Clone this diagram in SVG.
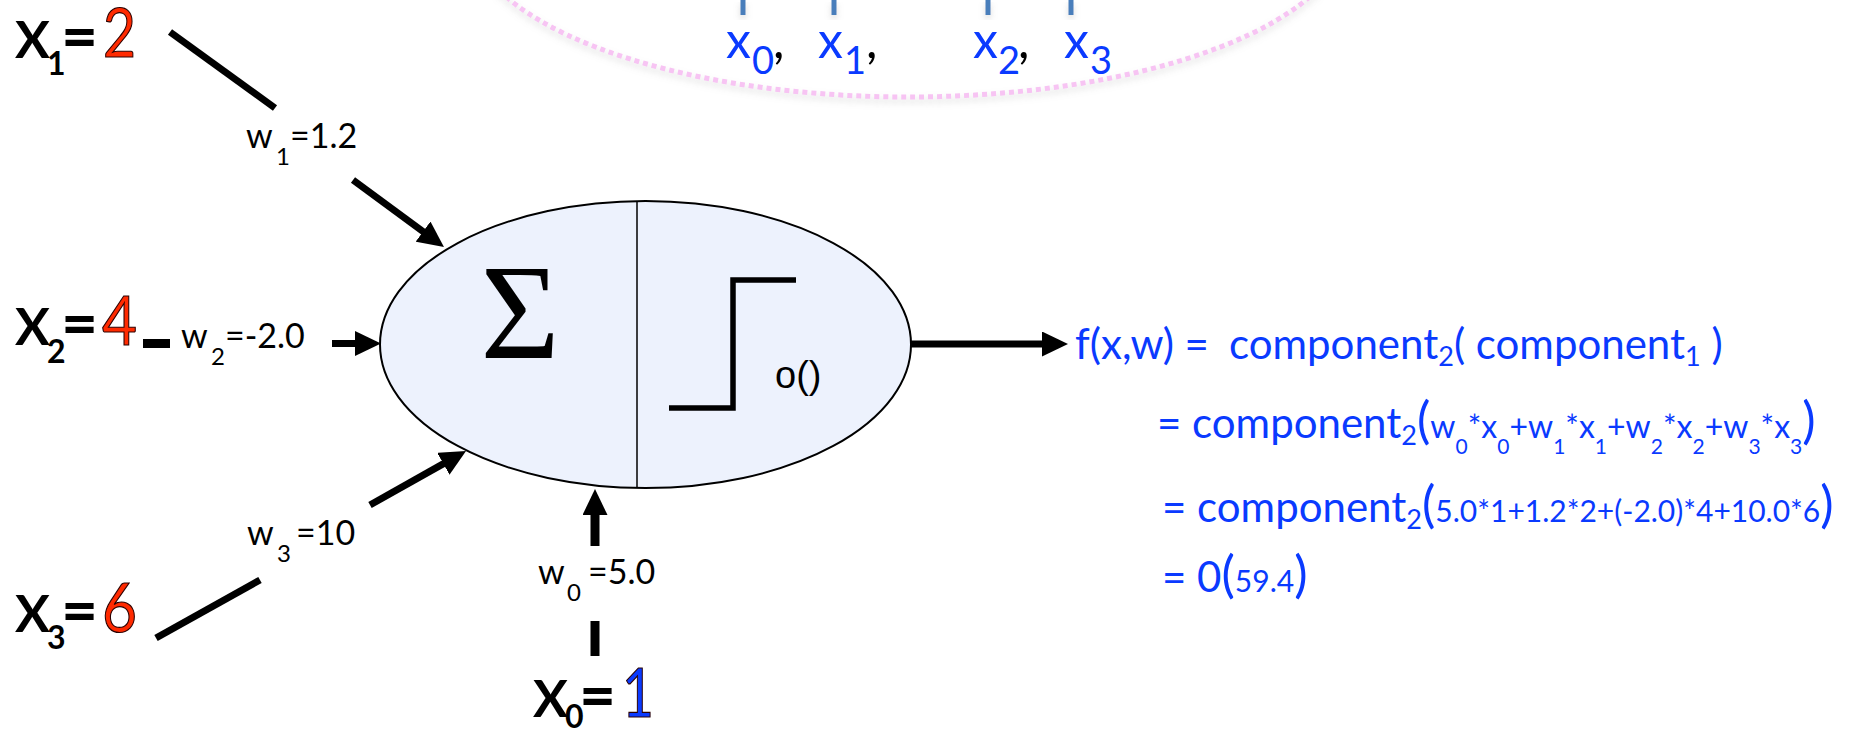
<svg xmlns="http://www.w3.org/2000/svg" width="1874" height="734" viewBox="0 0 1874 734">
<style>
text { font-family: Lato, "Liberation Sans", sans-serif; }
.xb { font-weight: 700; font-size: 52px; fill: #000; }
.eq { font-family: "Open Sans", Lato, sans-serif; font-weight: 700; font-size: 58px; fill: #000; }
.xs { font-weight: 700; font-size: 32px; fill: #000; }
.dig { font-size: 67px; stroke: #2a0000; stroke-width: 1.2px; }
.red { fill: #ff2a00; }
.blu { fill: #0a3aff; }
.w { font-size: 34px; fill: #000; }
.ws { font-size: 24px; }
.f { font-size: 42px; fill: #0a3aff; }
.fs { font-size: 27px; }
.sm { font-size: 30px; }
.sms { font-size: 20px; }
.sm2 { font-size: 32px; }
.sms2 { font-size: 21px; }
.bp { font-size: 50px; }
.tx { font-size: 50px; fill: #0a3aff; }
.txs { font-size: 38px; fill: #0a3aff; }
.cm { font-size: 50px; fill: #000; }
.tick { stroke: #4a7ebb; stroke-width: 5; }
</style>
<defs>
<marker id="ah" markerUnits="userSpaceOnUse" viewBox="0 0 26 25" markerWidth="26" markerHeight="25" refX="13" refY="12.5" orient="auto">
<path d="M0,0 L26,12.5 L0,25 z" fill="#000"/>
</marker>
<filter id="sh" x="-10%" y="-10%" width="120%" height="140%">
<feGaussianBlur in="SourceAlpha" stdDeviation="3"/>
<feOffset dy="4" result="b"/>
<feFlood flood-color="#999" flood-opacity="0.35"/>
<feComposite in2="b" operator="in"/>
<feMerge><feMergeNode/><feMergeNode in="SourceGraphic"/></feMerge>
</filter>
</defs>
<rect width="1874" height="734" fill="#fff"/>

<g id="top-arc">
<ellipse cx="908" cy="-72" rx="440" ry="169" fill="none" stroke="#f7c4f3" stroke-width="5" stroke-dasharray="5 4" filter="url(#sh)"/>
<g filter="url(#sh)">
<line class="tick" x1="743" y1="0" x2="743" y2="15"/>
<line class="tick" x1="834" y1="0" x2="834" y2="15"/>
<line class="tick" x1="988" y1="0" x2="988" y2="15"/>
<line class="tick" x1="1071" y1="0" x2="1071" y2="15"/>
</g>
<text class="tx" x="726" y="58">x</text><text class="txs" x="752" y="74">0</text><text class="cm" x="773" y="58">,</text>
<text class="tx" x="818" y="58">x</text><text class="txs" x="844" y="74">1</text><text class="cm" x="866" y="58">,</text>
<text class="tx" x="973" y="58">x</text><text class="txs" x="998" y="74">2</text><text class="cm" x="1018" y="58">,</text>
<text class="tx" x="1064" y="58">x</text><text class="txs" x="1090" y="74">3</text>
</g>

<g id="connectors" stroke="#000" stroke-width="7" fill="none">
<line x1="170" y1="32" x2="275" y2="108"/>
<line x1="353" y1="180" x2="433.5" y2="239.3" marker-end="url(#ah)"/>
<line x1="143" y1="343.5" x2="170" y2="343.5" stroke-width="9"/>
<line x1="332" y1="343.5" x2="368" y2="343.5" marker-end="url(#ah)"/>
<line x1="156" y1="638" x2="260" y2="580"/>
<line x1="370" y1="505" x2="454.7" y2="457.4" marker-end="url(#ah)"/>
<line x1="595" y1="656" x2="595" y2="621" stroke-width="9"/>
<line x1="595" y1="546" x2="595" y2="502" stroke-width="9" marker-end="url(#ah)"/>
<line x1="911" y1="344" x2="1055" y2="344" marker-end="url(#ah)"/>
</g>

<g id="neuron">
<ellipse cx="645.5" cy="344.5" rx="265.5" ry="143.5" fill="#edf2fd" stroke="#000" stroke-width="2"/>
<line x1="637" y1="201" x2="637" y2="488" stroke="#000" stroke-width="1.5"/>
<text x="520" y="358" text-anchor="middle" font-size="136" fill="#000" style="font-family:'Liberation Serif',serif">Σ</text>
<path d="M669,408 H733 V280 H796" fill="none" stroke="#000" stroke-width="5.5"/>
<text x="775" y="388" font-size="38" fill="#000" style="font-family:'Liberation Sans',Arial,sans-serif">o()</text>
</g>

<g id="x1">
<text class="xb" x="15" y="58">X</text><text class="xs" x="47" y="75">1</text><text class="eq" x="63" y="58">=</text><text class="dig red" x="103" y="57" textLength="33" lengthAdjust="spacingAndGlyphs">2</text>
</g>
<g id="x2">
<text class="xb" x="15" y="345">X</text><text class="xs" x="47" y="363">2</text><text class="eq" x="63" y="345">=</text><text class="dig red" x="102" y="345" textLength="35" lengthAdjust="spacingAndGlyphs">4</text>
</g>
<g id="x3">
<text class="xb" x="15" y="632">X</text><text class="xs" x="47" y="649">3</text><text class="eq" x="63" y="632">=</text><text class="dig red" x="102" y="632" textLength="35" lengthAdjust="spacingAndGlyphs">6</text>
</g>
<g id="x0">
<text class="xb" x="533" y="717">X</text><text class="xs" x="565" y="728">0</text><text class="eq" x="581" y="717">=</text><text class="dig blu" x="622" y="717" textLength="32" lengthAdjust="spacingAndGlyphs">1</text>
</g>

<g id="w1"><text class="w" x="246" y="148">w</text><text class="w ws" x="276" y="165">1</text><text class="w" x="290" y="148">=1.2</text></g>
<g id="w2"><text class="w" x="181" y="348">w</text><text class="w ws" x="211" y="365">2</text><text class="w" x="225" y="348">=-2.0</text></g>
<g id="w3"><text class="w" x="247" y="545">w</text><text class="w ws" x="277" y="562">3</text><text class="w" x="296" y="545">=10</text></g>
<g id="w0"><text class="w" x="538" y="584">w</text><text class="w ws" x="567" y="601">0</text><text class="w" x="588" y="584">=5.0</text></g>

<g id="formula">
<text class="f" y="359"><tspan x="1075" textLength="134" lengthAdjust="spacingAndGlyphs">f(x,w) =</tspan><tspan x="1229">component</tspan><tspan class="fs" dy="7">2</tspan><tspan dy="-7">( component</tspan><tspan class="fs" dy="7">1</tspan><tspan dy="-7"> )</tspan></text>
<text class="f" x="1157" y="438">= component<tspan class="fs" dy="7">2</tspan><tspan class="bp" dy="-7">(</tspan><tspan class="sm2">w</tspan><tspan class="sms2" dy="16">0</tspan><tspan class="sm2" dy="-16">*x</tspan><tspan class="sms2" dy="16">0</tspan><tspan class="sm2" dy="-16">+w</tspan><tspan class="sms2" dy="16">1</tspan><tspan class="sm2" dy="-16">*x</tspan><tspan class="sms2" dy="16">1</tspan><tspan class="sm2" dy="-16">+w</tspan><tspan class="sms2" dy="16">2</tspan><tspan class="sm2" dy="-16">*x</tspan><tspan class="sms2" dy="16">2</tspan><tspan class="sm2" dy="-16">+w</tspan><tspan class="sms2" dy="16">3</tspan><tspan class="sm2" dy="-16">*x</tspan><tspan class="sms2" dy="16">3</tspan><tspan class="bp" dy="-16">)</tspan></text>
<text class="f" x="1162" y="522">= component<tspan class="fs" dy="7">2</tspan><tspan class="bp" dy="-7">(</tspan><tspan class="sm">5.0*1+1.2*2+(-2.0)*4+10.0*6</tspan><tspan class="bp">)</tspan></text>
<text class="f" x="1162" y="592">= 0<tspan class="bp">(</tspan><tspan class="sm">59.4</tspan><tspan class="bp">)</tspan></text>
</g>
</svg>
